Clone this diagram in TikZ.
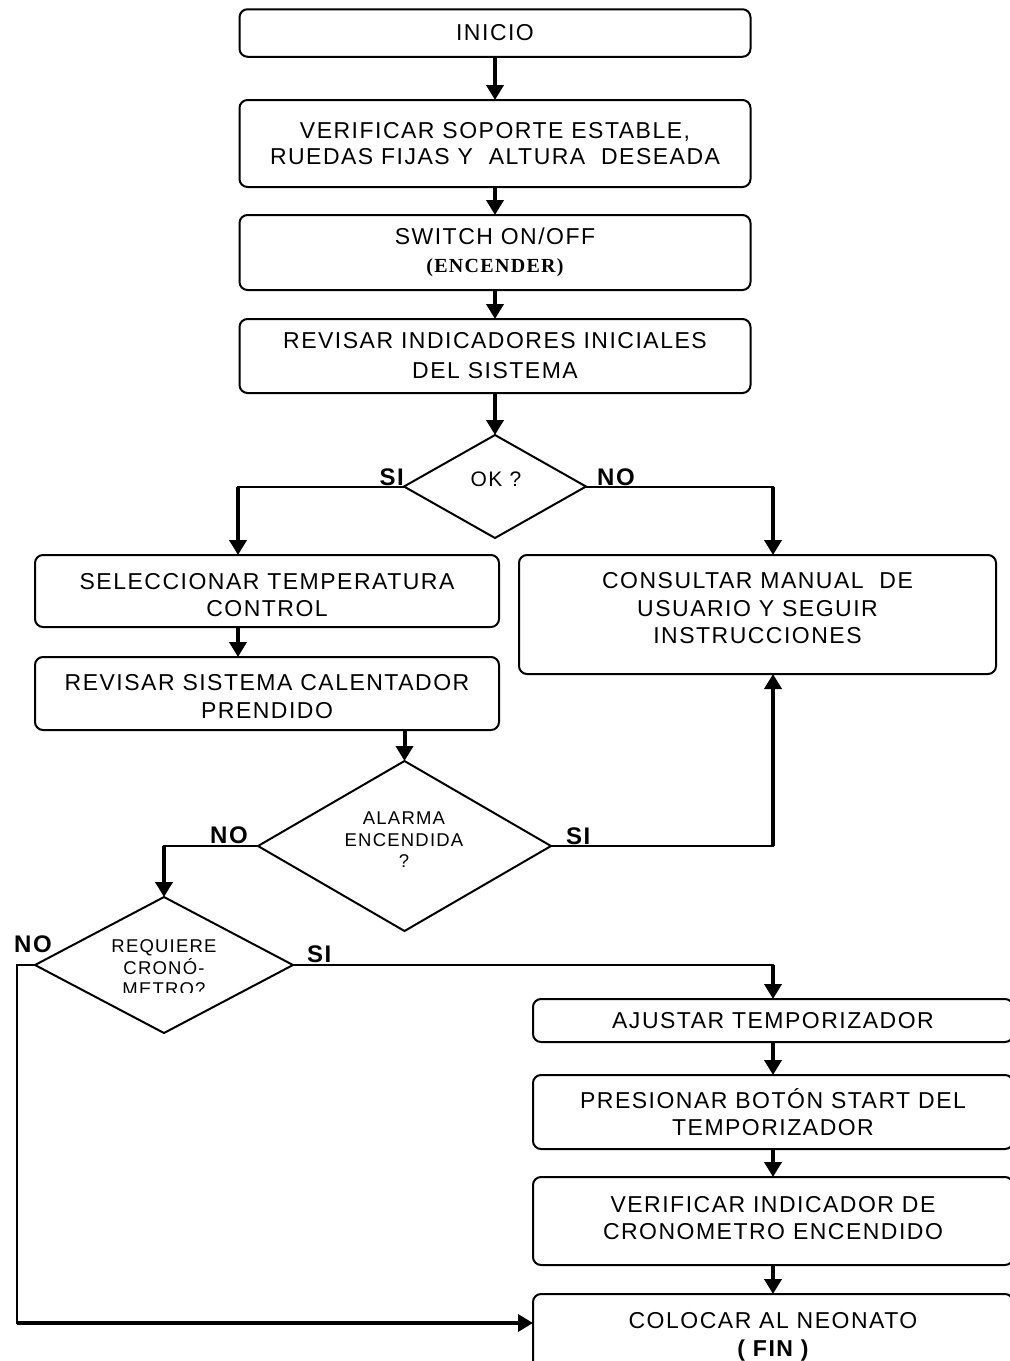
\documentclass[tikz,border=0pt]{standalone}
\usepackage{fontspec}
\setmainfont{Liberation Sans}[LetterSpace=6.5]
\newfontfamily\serifbold{Liberation Serif}[LetterSpace=6.5]
\usetikzlibrary{shapes.geometric,arrows.meta}

\tikzset{
  box/.style={draw, line width=2pt, rounded corners=8pt, align=center,
    inner sep=0pt, outer sep=0pt, font=\fontsize{23}{27.5}\selectfont},
  boxtext/.style={align=center, inner sep=0pt, font=\fontsize{23}{27.5}\selectfont},
  decision/.style={draw, diamond, line width=2pt, inner sep=0pt, outer sep=0pt},
  qtext/.style={align=center, inner sep=0pt, font=\fontsize{18.5}{21.5}\selectfont},
  yesno/.style={inner sep=0pt, font=\fontsize{24}{24}\selectfont\bfseries},
  flow/.style={line width=4pt, -{Triangle[length=15pt,width=17pt]}},
  link/.style={line width=2pt, line cap=rect},
}

\begin{document}
\begin{tikzpicture}[x=1pt,y=-1pt]
\fill[white] (0,0) rectangle (1010,1361);
\clip (0,0) rectangle (1010,1361);

% columns used by the branch lines
\coordinate (colL) at (238,0);
\coordinate (colR) at (773,0);

% main column
\node[box, minimum width=511pt, minimum height=47.5pt] (inicio) at (495,33) {INICIO};
\node[box, minimum width=511pt, minimum height=87pt, font=\fontsize{23}{25.3}\selectfont] (verif) at (495,143.5)
  {VERIFICAR SOPORTE ESTABLE,\\RUEDAS FIJAS Y\ \ ALTURA\ \ DESEADA};
\node[box, minimum width=511pt, minimum height=75pt] (switch) at (495,252.5)
  {SWITCH ON/OFF\\{\serifbold\bfseries\fontsize{20}{27.5}\selectfont (ENCENDER)}};
\node[box, minimum width=511pt, minimum height=74pt, font=\fontsize{23}{30}\selectfont] (revisar) at (495,356)
  {REVISAR INDICADORES INICIALES\\DEL SISTEMA};

% first decision
\node[decision, minimum width=182pt, minimum height=103pt] (ok) at (495,486.5) {};
\node[qtext, font=\fontsize{21}{24}\selectfont] (oktxt) at (496,479) {OK ?};
\node[yesno, anchor=south east] (siok) at (404,486) {SI};
\node[yesno, anchor=south west] (nook) at (597,486) {NO};

% left branch
\node[box, minimum width=464pt, minimum height=72pt,
  label={[boxtext, yshift=-4pt]center:{SELECCIONAR TEMPERATURA\\CONTROL}}] (selec) at (267,591) {};
\node[box, minimum width=464pt, minimum height=73pt,
  label={[boxtext, yshift=-3pt]center:{REVISAR SISTEMA CALENTADOR\\PRENDIDO}}] (calent) at (267,693.5) {};

% right branch
\node[box, minimum width=477pt, minimum height=119pt,
  label={[boxtext, yshift=6pt]center:{CONSULTAR MANUAL\ \ DE\\USUARIO Y SEGUIR\\INSTRUCCIONES}}] (consult) at (757.5,614.5) {};

% alarm decision
\node[decision, minimum width=293pt, minimum height=170pt] (alarma) at (404.5,846) {};
\node[qtext] (alarmatxt) at (404,840) {ALARMA\\ENCENDIDA\\?};
\node[yesno, anchor=south east] (noal) at (248,844) {NO};
\node[yesno, anchor=south west] (sial) at (566,845) {SI};

% timer decision (its text is cut off at the bottom)
\node[decision, minimum width=258pt, minimum height=136pt] (req) at (164,965) {};
\begin{scope}
  \clip (90,925) rectangle (240,992);
  \node[qtext] (reqtxt) at (164,968) {REQUIERE\\CRON\'O-\\METRO?};
\end{scope}
\node[yesno, anchor=south west] (noreq) at (14,953) {NO};
\node[yesno, anchor=south west] (sireq) at (307,963) {SI};

% timer steps
\node[box, minimum width=480pt, minimum height=43pt] (ajustar) at (773,1020.5)
  {AJUSTAR TEMPORIZADOR};
\node[box, minimum width=480pt, minimum height=74pt] (presionar) at (773,1112)
  {PRESIONAR BOT\'ON START DEL\\TEMPORIZADOR};
\node[box, minimum width=480pt, minimum height=88pt,
  label={[boxtext, yshift=3pt]center:{VERIFICAR INDICADOR DE\\CRONOMETRO ENCENDIDO}}] (verifcrono) at (773,1221) {};
\node[box, minimum width=480pt, minimum height=90pt,
  label={[boxtext, yshift=2pt]center:{COLOCAR AL NEONATO\\{\bfseries ( FIN )}}}] (colocar) at (773,1339) {};

% connectors
\draw[flow] (inicio) -- (verif);
\draw[flow] (verif) -- (switch);
\draw[flow] (switch) -- (revisar);
\draw[flow] (revisar) -- (ok);

\draw[link] (ok.west) -- (ok.west -| colL);
\draw[flow] (ok.west -| colL) -- (selec.north -| colL);
\draw[link] (ok.east) -- (ok.east -| colR);
\draw[flow] (ok.east -| colR) -- (consult.north -| colR);

\draw[flow] (selec.south -| colL) -- (calent.north -| colL);
\draw[flow] (calent.south -| alarma.north) -- (alarma.north);

\draw[link] (alarma.west) -- (alarma.west -| req.north);
\draw[flow] (alarma.west -| req.north) -- (req.north);
\draw[link] (alarma.east) -- (alarma.east -| colR);
\draw[flow] (alarma.east -| colR) -- (consult.south -| colR);

\draw[link] (req.east) -- (req.east -| colR);
\draw[flow] (req.east -| colR) -- (ajustar.north);

\draw[flow] (ajustar) -- (presionar);
\draw[flow] (presionar) -- (verifcrono);
\draw[flow] (verifcrono) -- (colocar);

\coordinate (loopEnd) at ([yshift=16pt]colocar.west);
\coordinate (loopCorner) at (17,0);
\draw[link] (req.west) -| (loopEnd -| loopCorner);
\draw[flow, line width=3.5pt] (loopEnd -| loopCorner) -- (loopEnd);
\end{tikzpicture}
\end{document}
